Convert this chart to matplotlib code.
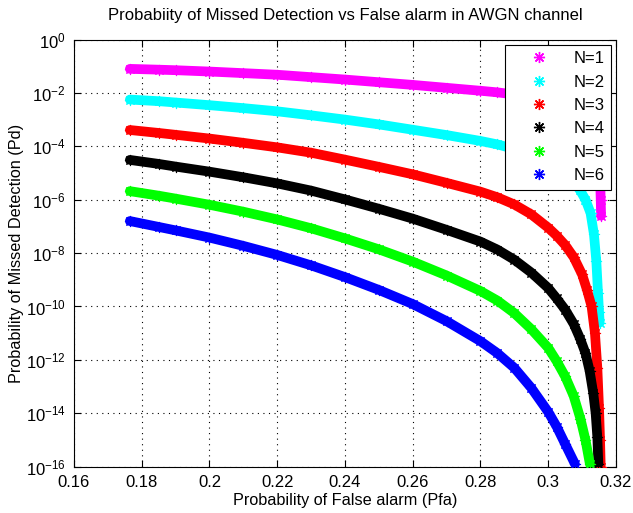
import numpy as np
import matplotlib
matplotlib.use("Agg")
import matplotlib.pyplot as plt
from matplotlib.lines import Line2D

plt.rcParams['font.family'] = ['Liberation Sans', 'DejaVu Sans']
plt.rcParams['mathtext.fontset'] = 'custom'
plt.rcParams['mathtext.rm'] = 'Liberation Sans'

labels = ["N=1", "N=2", "N=3", "N=4", "N=5", "N=6"]
colors = ["#ff00ff", "#00ffff", "#ff0000", "#000000", "#00ff00", "#0000ff"]

# Pfa values and log10(Pmd) values
xa = [0.1765, 0.185, 0.19, 0.20, 0.21, 0.22, 0.23, 0.24, 0.25, 0.26, 0.27, 0.28, 0.285, 0.29, 0.295, 0.30, 0.3025, 0.305, 0.3075]

x1 = xa + [0.31, 0.312, 0.3135, 0.3145, 0.3150, 0.3153, 0.3155, 0.3156]
l1 = [-1.10, -1.13, -1.15, -1.20, -1.26, -1.32, -1.41, -1.50, -1.60, -1.70, -1.81, -1.92, -1.98, -2.06, -2.18, -2.33, -2.43, -2.53, -2.65,
      -2.85, -3.10, -3.45, -3.85, -4.40, -5.20, -6.00, -6.60]

x2 = xa + [0.3094, 0.311, 0.3125, 0.3135, 0.3142, 0.3147, 0.3150, 0.3152]
l2 = [-2.25, -2.31, -2.36, -2.46, -2.57, -2.69, -2.84, -3.00, -3.18, -3.38, -3.58, -3.80, -3.93, -4.10, -4.34, -4.64, -4.84, -5.06, -5.32,
      -5.65, -6.00, -6.50, -7.30, -8.30, -9.50, -10.20, -10.60]

x3 = xa + [0.31, 0.3115, 0.3128, 0.3138, 0.3145, 0.3150, 0.3153, 0.3155]
l3 = [-3.39, -3.50, -3.57, -3.71, -3.87, -4.04, -4.24, -4.50, -4.77, -5.05, -5.37, -5.70, -5.91, -6.18, -6.55, -7.05, -7.35, -7.70, -8.15,
      -8.80, -9.40, -10.00, -11.00, -12.30, -13.80, -15.00, -16.00]

x4 = xa + [0.3094, 0.311, 0.3122, 0.3133, 0.3140, 0.3145, 0.3148]
l4 = [-4.51, -4.66, -4.76, -4.95, -5.16, -5.39, -5.66, -5.99, -6.34, -6.71, -7.13, -7.57, -7.87, -8.25, -8.73, -9.31, -9.70, -10.12, -10.65,
      -11.20, -11.75, -12.40, -13.25, -14.00, -14.90, -15.90]

x5 = xa + [0.3095, 0.311, 0.3123]
l5 = [-5.68, -5.85, -5.96, -6.19, -6.45, -6.74, -7.07, -7.45, -7.86, -8.32, -8.84, -9.42, -9.78, -10.25, -10.85, -11.55, -12.05, -12.62, -13.35,
      -14.20, -15.00, -15.90]

x6 = xa[:-1] + [0.3079]
l6 = [-6.80, -7.02, -7.15, -7.42, -7.73, -8.07, -8.46, -8.90, -9.38, -9.91, -10.55, -11.30, -11.75, -12.30, -13.05, -13.95, -14.50, -15.15,
      -15.90]

xs = [x1, x2, x3, x4, x5, x6]
ls = [l1, l2, l3, l4, l5, l6]

xticks = [0.16, 0.18, 0.2, 0.22, 0.24, 0.26, 0.28, 0.3, 0.32]
xticklabels = ["0.16", "0.18", "0.2", "0.22", "0.24", "0.26", "0.28", "0.3", "0.32"]
yticks = [1e-16, 1e-14, 1e-12, 1e-10, 1e-8, 1e-6, 1e-4, 1e-2, 1e0]

fig = plt.figure(figsize=(6.33, 5.13), dpi=100)
ax = fig.add_axes([0.1169, 0.0903, 0.8562, 0.8327])

star = (8, 2, 0)
handles = []
for x, l, c, lab in zip(xs, ls, colors, labels):
    y = 10.0 ** np.array(l)
    ax.plot(x, y, color=c, lw=7, solid_capstyle='round', solid_joinstyle='round', zorder=3)
    ax.plot(x, y, linestyle='none', marker=star, color=c, ms=8, mew=0.8, zorder=3)
    handles.append(Line2D([], [], linestyle='none', marker=star, color=c, ms=8, mew=1.0, label=lab))

ax.set_yscale('log')
ax.set_xlim(0.16, 0.32)
ax.set_ylim(1e-16, 1e0)
ax.set_xticks(xticks)
ax.set_xticklabels(xticklabels)
ax.set_yticks(yticks)
ax.yaxis.set_minor_locator(matplotlib.ticker.NullLocator())
ax.tick_params(direction='in', top=True, right=True, length=5, width=0.8, labelsize=12)
ax.tick_params(axis='x', pad=6)
ax.tick_params(axis='y', pad=6)
ax.grid(True, which='major', color='black', linestyle=(0, (1, 4)), linewidth=0.8)
for s in ax.spines.values():
    s.set_linewidth(0.8)

ax.set_title("Probabiity of Missed Detection vs False alarm in AWGN channel", fontsize=12, pad=14)
ax.set_xlabel("Probability of False alarm (Pfa)", fontsize=11.7, labelpad=2)
ax.set_ylabel("Probability of Missed Detection (Pd)", fontsize=11.7, labelpad=1)

leg = ax.legend(handles=handles, loc='upper right', fontsize=12, fancybox=False,
                edgecolor='black', framealpha=1, borderaxespad=0.3, handletextpad=0.4,
                labelspacing=0.5, handlelength=3.3, borderpad=0.4)
leg.get_frame().set_linewidth(0.8)

fig.savefig("out.png", dpi=100)
